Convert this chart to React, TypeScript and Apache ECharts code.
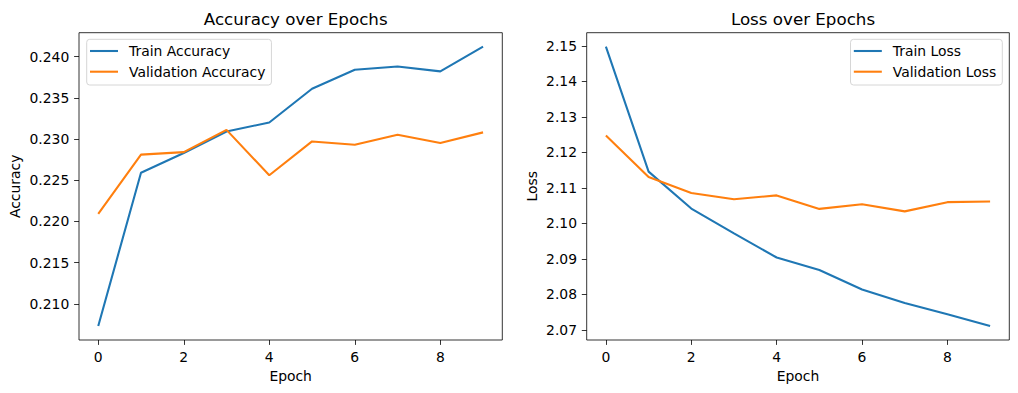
import React, { useEffect, useRef } from "react";
import * as echarts from "echarts";

const epochs = [0, 1, 2, 3, 4, 5, 6, 7, 8, 9];
const trainAcc = [0.2073, 0.2259, 0.2283, 0.2309, 0.2320, 0.2361, 0.2384, 0.2388, 0.2382, 0.2412];
const valAcc = [0.2209, 0.2281, 0.2284, 0.2311, 0.2256, 0.2297, 0.2293, 0.2305, 0.2295, 0.2308];
const trainLoss = [2.1498, 2.1146, 2.1042, 2.0972, 2.0904, 2.0869, 2.0814, 2.0776, 2.0744, 2.0711];
const valLoss = [2.1248, 2.1131, 2.1086, 2.1068, 2.1079, 2.1041, 2.1054, 2.1034, 2.1060, 2.1062];
const xTicks = [0, 2, 4, 6, 8];
const accTicks = [0.21, 0.215, 0.22, 0.225, 0.23, 0.235, 0.24];
const lossTicks = [2.07, 2.08, 2.09, 2.1, 2.11, 2.12, 2.13, 2.14, 2.15];

const FONT = "DejaVu Sans";
const C0 = "#1f77b4";
const C1 = "#ff7f0e";

function pad(vals: number[][]) {
  const all = vals.flat();
  const mn = Math.min(...all);
  const mx = Math.max(...all);
  const m = (mx - mn) * 0.05;
  return [mn - m, mx + m];
}

export default function App() {
  const ref = useRef<HTMLDivElement>(null);
  useEffect(() => {
    if (!ref.current) return;
    const chart = echarts.init(ref.current, null, { renderer: "svg" });
    const [aMin, aMax] = pad([trainAcc, valAcc]);
    const [lMin, lMax] = pad([trainLoss, valLoss]);
    const xMin = epochs[0] - 0.45;
    const xMax = epochs[epochs.length - 1] + 0.45;

    const xAxisBase = (gridIndex: number) => ({
      type: "value",
      gridIndex,
      min: xMin,
      max: xMax,
      name: "Epoch",
      nameLocation: "middle",
      nameGap: 28,
      nameTextStyle: { fontFamily: FONT, fontSize: 13.9, color: "#000" },
      axisLine: { show: false, onZero: false },
      axisTick: { show: true, customValues: xTicks, length: 4.9, lineStyle: { color: "#000", width: 0.8 } },
      axisLabel: {
        customValues: xTicks,
        margin: 9.7,
        fontFamily: FONT,
        fontSize: 13.9,
        color: "#000",
      },
      splitLine: { show: false },
    });

    const yAxisBase = (gridIndex: number, min: number, max: number, ticks: number[], digits: number, name: string, gap: number) => ({
      type: "value",
      gridIndex,
      min,
      max,
      name,
      nameLocation: "middle",
      nameGap: gap,
      nameTextStyle: { fontFamily: FONT, fontSize: 13.9, color: "#000" },
      axisLine: { show: false, onZero: false },
      axisTick: { show: true, customValues: ticks, length: 4.9, lineStyle: { color: "#000", width: 0.8 } },
      axisLabel: {
        customValues: ticks,
        margin: 9.7,
        fontFamily: FONT,
        fontSize: 13.9,
        color: "#000",
        formatter: (v: number) => v.toFixed(digits),
      },
      splitLine: { show: false },
    });

    const legendBase = {
      orient: "vertical",
      top: 39.3,
      itemWidth: 28,
      itemHeight: 14,
      itemGap: 4.7,
      icon: "path://M0,0 L28,0 L28,2.08 L0,2.08 Z",
      padding: [3.7, 6, 5.3, 3.3],
      backgroundColor: "#ffffff",
      borderColor: "#d6d6d6",
      borderWidth: 1,
      borderRadius: 3,
      textStyle: { fontFamily: FONT, fontSize: 13.9, color: "#000", lineHeight: 16, padding: [0, 0, 0, 6] },
    };

    const lineSeries = (name: string, data: number[], color: string, idx: number) => ({
      type: "line",
      name,
      xAxisIndex: idx,
      yAxisIndex: idx,
      data: epochs.map((e, i) => [e, data[i]]),
      symbol: "none",
      showSymbol: false,
      lineStyle: { color, width: 2.08 },
      itemStyle: { color },
      silent: true,
    });

    chart.setOption({
      animation: false,
      backgroundColor: "#ffffff",
      title: [
        {
          text: "Accuracy over Epochs",
          left: 290.7,
          textAlign: "center",
          top: 5,
          textStyle: { fontFamily: FONT, fontSize: 16.7, fontWeight: "normal", color: "#000" },
        },
        {
          text: "Loss over Epochs",
          left: 798,
          textAlign: "center",
          top: 5,
          textStyle: { fontFamily: FONT, fontSize: 16.7, fontWeight: "normal", color: "#000" },
        },
      ],
      grid: [
        { left: 79, right: 1018 - 502.3, top: 32.7, bottom: 53, show: true, borderColor: "#000", borderWidth: 0.8, backgroundColor: "transparent" },
        { left: 586.7, right: 1018 - 1009.3, top: 32.7, bottom: 53, show: true, borderColor: "#000", borderWidth: 0.8, backgroundColor: "transparent" },
      ],
      xAxis: [xAxisBase(0), xAxisBase(1)],
      yAxis: [
        yAxisBase(0, aMin, aMax, accTicks, 3, "Accuracy", 57),
        yAxisBase(1, lMin, lMax, lossTicks, 2, "Loss", 48),
      ],
      legend: [
        { ...legendBase, left: 86.7, data: ["Train Accuracy", "Validation Accuracy"] },
        { ...legendBase, right: 15.7, data: ["Train Loss", "Validation Loss"] },
      ],
      series: [
        lineSeries("Train Accuracy", trainAcc, C0, 0),
        lineSeries("Validation Accuracy", valAcc, C1, 0),
        lineSeries("Train Loss", trainLoss, C0, 1),
        lineSeries("Validation Loss", valLoss, C1, 1),
      ],
    });
    return () => chart.dispose();
  }, []);
  return <div ref={ref} style={{ position: "fixed", left: 0, top: 0, width: 1018, height: 393 }} />;
}
